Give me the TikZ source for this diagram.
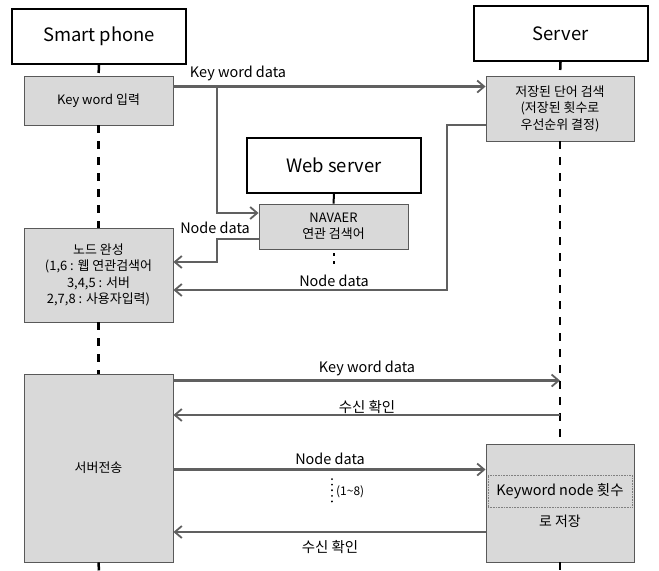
\documentclass[tikz,border=0pt]{standalone}
\usepackage{fontspec}
\setmainfont{Noto Sans CJK KR}
\usetikzlibrary{arrows.meta,calc}
\definecolor{actfill}{HTML}{D9D9D9}
\definecolor{actline}{HTML}{595959}
\definecolor{msgline}{HTML}{606060}
\begin{document}
\begin{tikzpicture}[x=1bp,y=-1bp,
  hdr/.style={draw=black,line width=2bp,fill=white,minimum width=174bp,minimum height=55bp,
    inner sep=0pt,font=\fontsize{18.5}{20}\selectfont},
  act/.style={draw=actline,line width=0.9bp,fill=actfill,inner sep=0pt,align=center,
    font=\fontsize{13}{16.5}\selectfont},
  life/.style={draw=black,line width=2.5bp,dash pattern=on 8bp off 8bp},
  msg/.style={draw=msgline,line width=2.2bp,-{Straight Barb[length=7bp,width=12bp,line width=1.8bp]}},
  lbl/.style={inner sep=1pt,font=\fontsize{14.5}{16}\selectfont}]
\useasboundingbox (0,0) rectangle (659,571);

% participants
\node[hdr] (sp)  at (99,36.5)    {Smart phone};
\node[hdr] (srv) at (560.5,33.5) {Server};
\node[hdr] (web) at (334,165.5)  {Web server};

% activation boxes
\node[act,minimum width=149bp,minimum height=49bp] (kw) at (98.5,100.5) {Key word 입력};
\node[act,minimum width=149bp,minimum height=94bp] (nd) at (98.5,275)
  {노드 완성\\(1,6 : 웹 연관검색어\\3,4,5 : 서버\\2,7,8 : 사용자입력)};
\node[act,minimum width=149bp,minimum height=188bp] (sv) at (98.5,468) {서버전송};
\node[act,minimum width=148bp,minimum height=65bp] (srch) at (560,108.5)
  {저장된 단어 검색\\(저장된 횟수로\\우선순위 결정)};
\node[act,minimum width=148bp,minimum height=118bp] (store) at (560,503) {};
\node[act,minimum width=149bp,minimum height=45bp] (nav) at (333.5,226.5) {NAVAER\\연관 검색어};
\node[draw=gray,densely dotted,line width=0.6bp,fill=actfill,minimum width=144bp,minimum height=32bp,
  inner sep=0pt,font=\fontsize{14.5}{16}\selectfont] (cnt) at (560,491) {Keyword node 횟수};
\node[font=\fontsize{14}{16}\selectfont] (save) at (560,521) {로 저장};

% lifelines
\coordinate (spend) at (99,571);
\coordinate (srvend) at (560,571);
\draw[life] (sp.south) -- (kw.north);
\draw[life] (kw.south) -- (nd.north);
\draw[life] (nd.south) -- (sv.north);
\draw[life] (sv.south) -- (spend);
\draw[life] (srv.south) -- (srch.north);
\draw[life] (srch.south) -- (store.north);
\draw[life] (store.south) -- (srvend);
\draw[black,line width=2bp] (web.south) -- (nav.north);
\coordinate (navend) at (333.5,267);
\draw[black,line width=2bp,dash pattern=on 3bp off 5bp] ($(nav.south)+(0,4)$) -- (navend);

% keyword request to server, with a branch to the web server
\coordinate (k1) at ($(kw.north east)+(0,11)$);
\coordinate (br) at (217,87);
\draw[msg] (k1) -- (k1 -| srch.west);
\draw[msg] (br) |- ($(nav.west)+(0,-13.5)$);
\node[lbl,anchor=base] (l1) at (238,78) {Key word data};

% node data from the web server
\coordinate (n1) at ($(nav.west)+(0,12.5)$);
\draw[msg] (n1) -| (217,262) -- ($(nd.east)+(0,-13)$);
\node[lbl,anchor=base] (l2) at (215,233) {Node data};

% node data from the server
\coordinate (s1) at ($(srch.west)+(0,16.5)$);
\draw[msg] (s1) -| (447,290) -- ($(nd.east)+(0,15)$);
\node[lbl,anchor=base] (l3) at (334,286) {Node data};

% transfer to server
\coordinate (t1) at ($(sv.north east)+(0,7)$);
\draw[msg] (t1) -- (t1 -| srvend);
\node[lbl,anchor=base] (l4) at (367,372) {Key word data};

\coordinate (t2) at (560,415);
\draw[msg] (t2) -- (t2 -| sv.east);
\node[lbl,anchor=base] (l5) at (367,412) {수신 확인};

\coordinate (t3) at ($(sv.north east)+(0,96)$);
\draw[msg] (t3) -- (t3 -| store.west);
\node[lbl,anchor=base] (l6) at (330,464) {Node data};
\coordinate (d1) at (332,479);
\coordinate (d2) at (332,505);
\draw[black,line width=2bp,line cap=round,dash pattern=on 0.1bp off 5.5bp] (d1) -- (d2);
\node[inner sep=0pt,anchor=west,font=\fontsize{12}{14}\selectfont] (rep) at (336,492) {(1\textasciitilde 8)};

\coordinate (t4) at ($(store.west)+(0,29)$);
\draw[msg] (t4) -- (t4 -| sv.east);
\node[lbl,anchor=base] (l7) at (330,552) {수신 확인};
\end{tikzpicture}
\end{document}
